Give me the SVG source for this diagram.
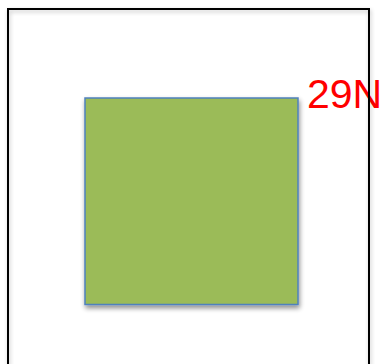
<svg xmlns="http://www.w3.org/2000/svg" width="386" height="364" viewBox="0 0 386 364">
<defs>
<filter id="sh" x="-10%" y="-10%" width="130%" height="130%">
<feGaussianBlur in="SourceAlpha" stdDeviation="2.5"/>
<feOffset dx="1" dy="3" result="b"/>
<feComponentTransfer><feFuncA type="linear" slope="0.45"/></feComponentTransfer>
<feMerge><feMergeNode/><feMergeNode in="SourceGraphic"/></feMerge>
</filter>
<filter id="sh2" x="-5%" y="-5%" width="110%" height="110%">
<feGaussianBlur in="SourceAlpha" stdDeviation="2"/>
<feOffset dx="1" dy="2"/>
<feComponentTransfer><feFuncA type="linear" slope="0.25"/></feComponentTransfer>
<feMerge><feMergeNode/><feMergeNode in="SourceGraphic"/></feMerge>
</filter>
</defs>
<style>
.lbl{font-family:"Liberation Sans",Arial,sans-serif;font-size:41px;fill:#FF0000}
</style>
<rect width="386" height="364" fill="#FFFFFF"/>
<g id="label"><text class="lbl" x="307" y="108">29N</text></g>
<g id="outer"><rect x="8" y="9" width="361" height="370" fill="none" stroke="#000000" stroke-width="2" filter="url(#sh2)"/></g>
<g id="square"><rect x="85" y="98" width="213" height="206.5" fill="#9BBB59" stroke="#4F81BD" stroke-width="1.5" filter="url(#sh)"/></g>
<g id="connectors"/>
</svg>
